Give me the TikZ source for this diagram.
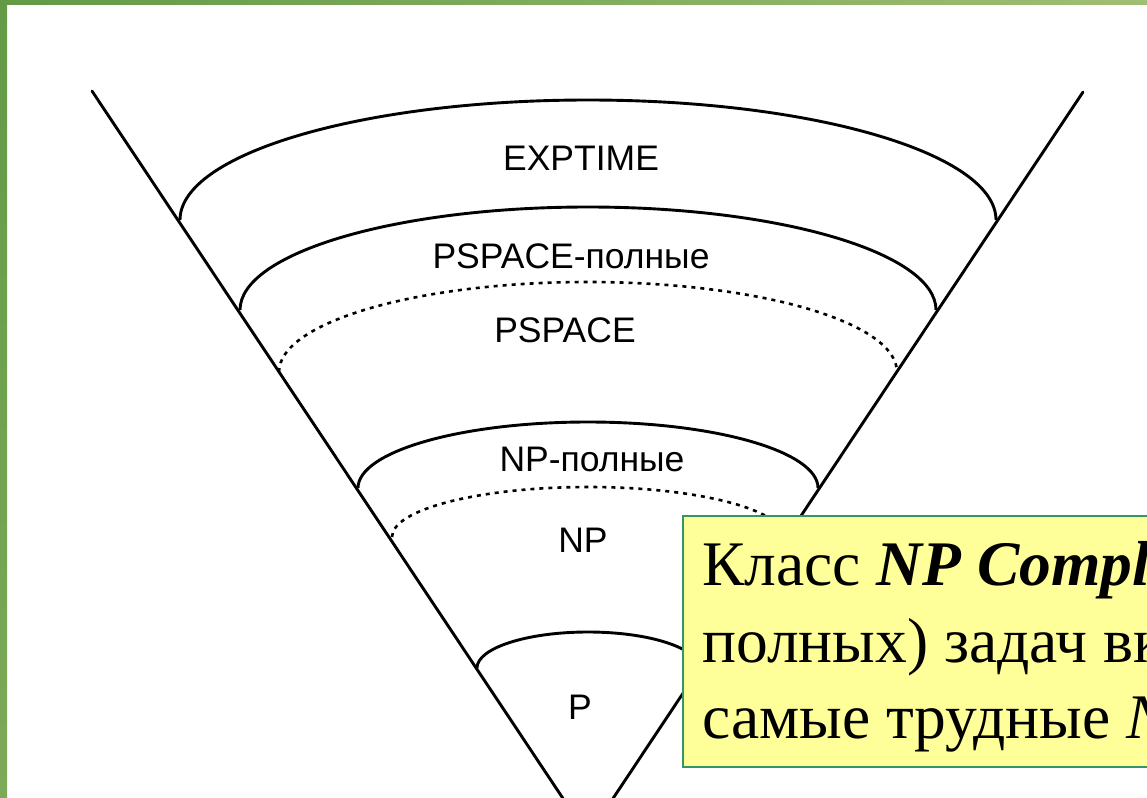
\documentclass[tikz,border=0pt]{standalone}
\usepackage{fontspec}
\setmainfont{Liberation Serif}
\newfontfamily\labelfont{Liberation Sans}
\definecolor{frameDark}{RGB}{98,154,70}
\definecolor{frameLight}{RGB}{160,190,115}
\definecolor{frameLow}{RGB}{125,170,88}
\definecolor{noteFill}{RGB}{255,255,153}
\definecolor{noteEdge}{RGB}{52,150,100}
\begin{document}
\begin{tikzpicture}[x=1pt,y=-1pt,
  cone/.style={line width=2.9pt, line cap=round},
  band/.style={line width=2.9pt},
  inner/.style={line width=2.6pt, dash pattern=on 4pt off 5pt},
  classlabel/.style={font=\labelfont\fontsize{35.5}{40}\selectfont, anchor=base, inner sep=0pt},
  noteline/.style={font=\fontsize{63.5}{74}\selectfont, anchor=base west, inner sep=0pt}]
  \useasboundingbox (0,0) rectangle (1147,797);
  \clip (0,0) rectangle (1147,797);
  \fill[white] (0,0) rectangle (1147,797);

  % slide frame
  \shade[left color=frameDark, right color=frameLight] (0,0) rectangle (1147,5);
  \shade[top color=frameDark, bottom color=frameLow] (0,0) rectangle (7,797);

  % the cone
  \coordinate (apex) at (588,836);
  \coordinate (tl) at (92,91);
  \coordinate (tr) at (1083,92);
  \draw[cone] (tl) -- (apex) -- (tr);

  % class boundaries (half ellipses between the cone walls)
  \draw[band]  (180,220) arc[start angle=180, end angle=0, x radius=408pt, y radius=120pt];
  \draw[band]  (240,310) arc[start angle=180, end angle=0, x radius=348pt, y radius=103pt];
  \draw[inner] (279,372) arc[start angle=180, end angle=0, x radius=309pt, y radius=90pt];
  \draw[band]  (358,488) arc[start angle=180, end angle=0, x radius=230pt, y radius=66pt];
  \draw[inner] (392,537) arc[start angle=180, end angle=0, x radius=196pt, y radius=50pt];
  \draw[band]  (477,668) arc[start angle=180, end angle=0, x radius=111pt, y radius=36pt];

  % class names
  \node[classlabel] (exptime) at (581,170) {EXPTIME};
  \node[classlabel] (pspacec) at (571,268) {PSPACE-полные};
  \node[classlabel] (pspace)  at (565,342) {PSPACE};
  \node[classlabel] (npc)     at (592,471) {NP-полные};
  \node[classlabel] (np)      at (583,552) {NP};
  \node[classlabel] (p)       at (580,719) {P};

  % note box
  \draw[fill=noteFill, draw=noteEdge, line width=2pt] (683,516) rectangle (1170,767);
  \node[noteline] (note1) at (702,585) {Класс \textbf{\textit{NP Complete}} (NP-};
  \node[noteline] (note2) at (702,662) {полных) задач включает};
  \node[noteline] (note3) at (702,738) {самые трудные \textit{NP}-задачи};
\end{tikzpicture}
\end{document}
